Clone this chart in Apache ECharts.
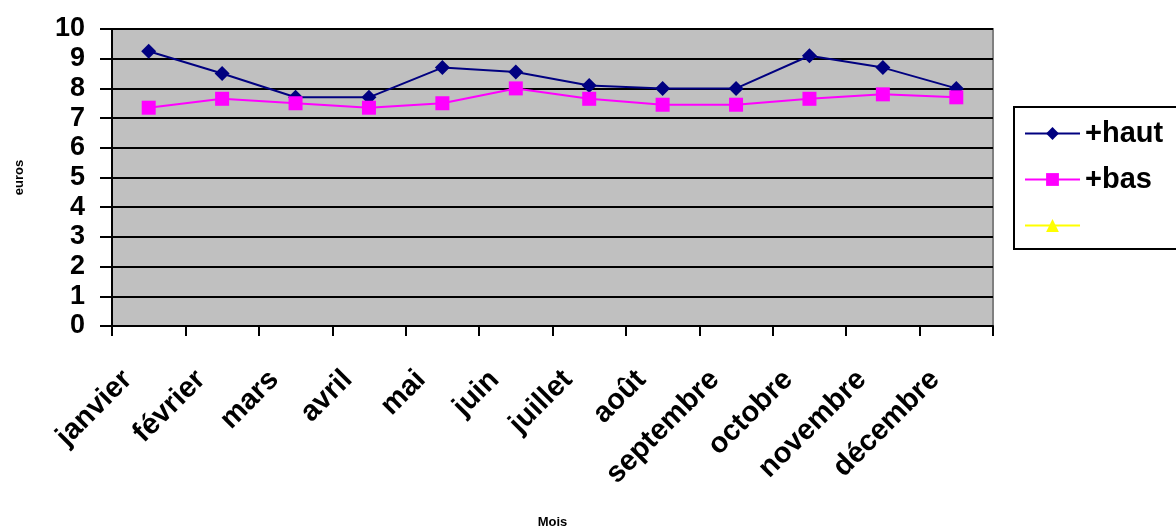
<!DOCTYPE html>
<html>
<head>
<meta charset="utf-8">
<script src="https://cdn.jsdelivr.net/npm/echarts@6/dist/echarts.min.js"></script>
<style>html,body{margin:0;padding:0;background:#fff;}#c{width:1176px;height:532px;}</style>
</head>
<body>
<div id="c"></div>
<script>
const months = ['janvier','février','mars','avril','mai','juin','juillet','août','septembre','octobre','novembre','décembre'];
const haut = [9.25, 8.5, 7.7, 7.7, 8.7, 8.55, 8.1, 8.0, 8.0, 9.1, 8.7, 8.0];
const bas = [7.35, 7.65, 7.5, 7.35, 7.5, 8.0, 7.65, 7.45, 7.45, 7.65, 7.8, 7.7];
const third = [];
const yTicks = [0,1,2,3,4,5,6,7,8,9,10];

const FONT = 'Liberation Sans, Arial, sans-serif';
const chart = echarts.init(document.getElementById('c'));
chart.setOption({
  animation: false,
  backgroundColor: '#ffffff',
  grid: {left: 112, right: 183, top: 29, bottom: 206, show: true, containLabel: false,
         outerBoundsMode: 'none',
         backgroundColor: '#C0C0C0', borderColor: '#808080', borderWidth: 2},
  legend: {
    left: 1014, top: 107, orient: 'vertical',
    data: ['+haut', '+bas', ' '],
    itemWidth: 55, itemHeight: 16, itemGap: 17,
    borderColor: '#000', borderWidth: 2, padding: [12, 40, 9, 10],
    backgroundColor: '#fff',
    textStyle: {fontFamily: FONT, fontWeight: 'bold', fontSize: 29, color: '#000'}
  },
  xAxis: {
    type: 'category', data: months, boundaryGap: true,
    name: 'Mois', nameLocation: 'middle', nameGap: 190,
    nameTextStyle: {fontFamily: FONT, fontWeight: 'bold', fontSize: 13, color: '#000'},
    axisLine: {lineStyle: {color: '#000', width: 2}},
    axisTick: {show: true, length: 10, lineStyle: {color: '#000', width: 2}},
    axisLabel: {rotate: 45, margin: 28, interval: 0, padding: [0, 30, 0, 0],
      fontFamily: FONT, fontWeight: 'bold', fontSize: 29, color: '#000'},
    splitLine: {show: false}
  },
  yAxis: {
    type: 'value', min: yTicks[0], max: yTicks[yTicks.length-1], interval: 1,
    name: 'euros', nameLocation: 'middle', nameGap: 86, nameRotate: 90,
    nameTextStyle: {fontFamily: FONT, fontWeight: 'bold', fontSize: 13, color: '#000'},
    axisLine: {show: true, lineStyle: {color: '#000', width: 2}},
    axisTick: {show: true, length: 12, lineStyle: {color: '#000', width: 2}},
    axisLabel: {margin: 27, fontFamily: FONT, fontWeight: 'bold', fontSize: 27, color: '#000'},
    splitLine: {show: true, lineStyle: {color: '#000', width: 2}}
  },
  series: [
    {name: '+haut', type: 'line', data: haut, symbol: 'diamond', symbolSize: 15,
     lineStyle: {color: '#000080', width: 2}, itemStyle: {color: '#000080'}},
    {name: '+bas', type: 'line', data: bas, symbol: 'rect', symbolSize: 14,
     lineStyle: {color: '#FF00FF', width: 2}, itemStyle: {color: '#FF00FF'}},
    {name: ' ', type: 'line', data: third, symbol: 'triangle', symbolSize: 14,
     lineStyle: {color: '#FFFF00', width: 2}, itemStyle: {color: '#FFFF00'}}
  ]
});
</script>
</body>
</html>
